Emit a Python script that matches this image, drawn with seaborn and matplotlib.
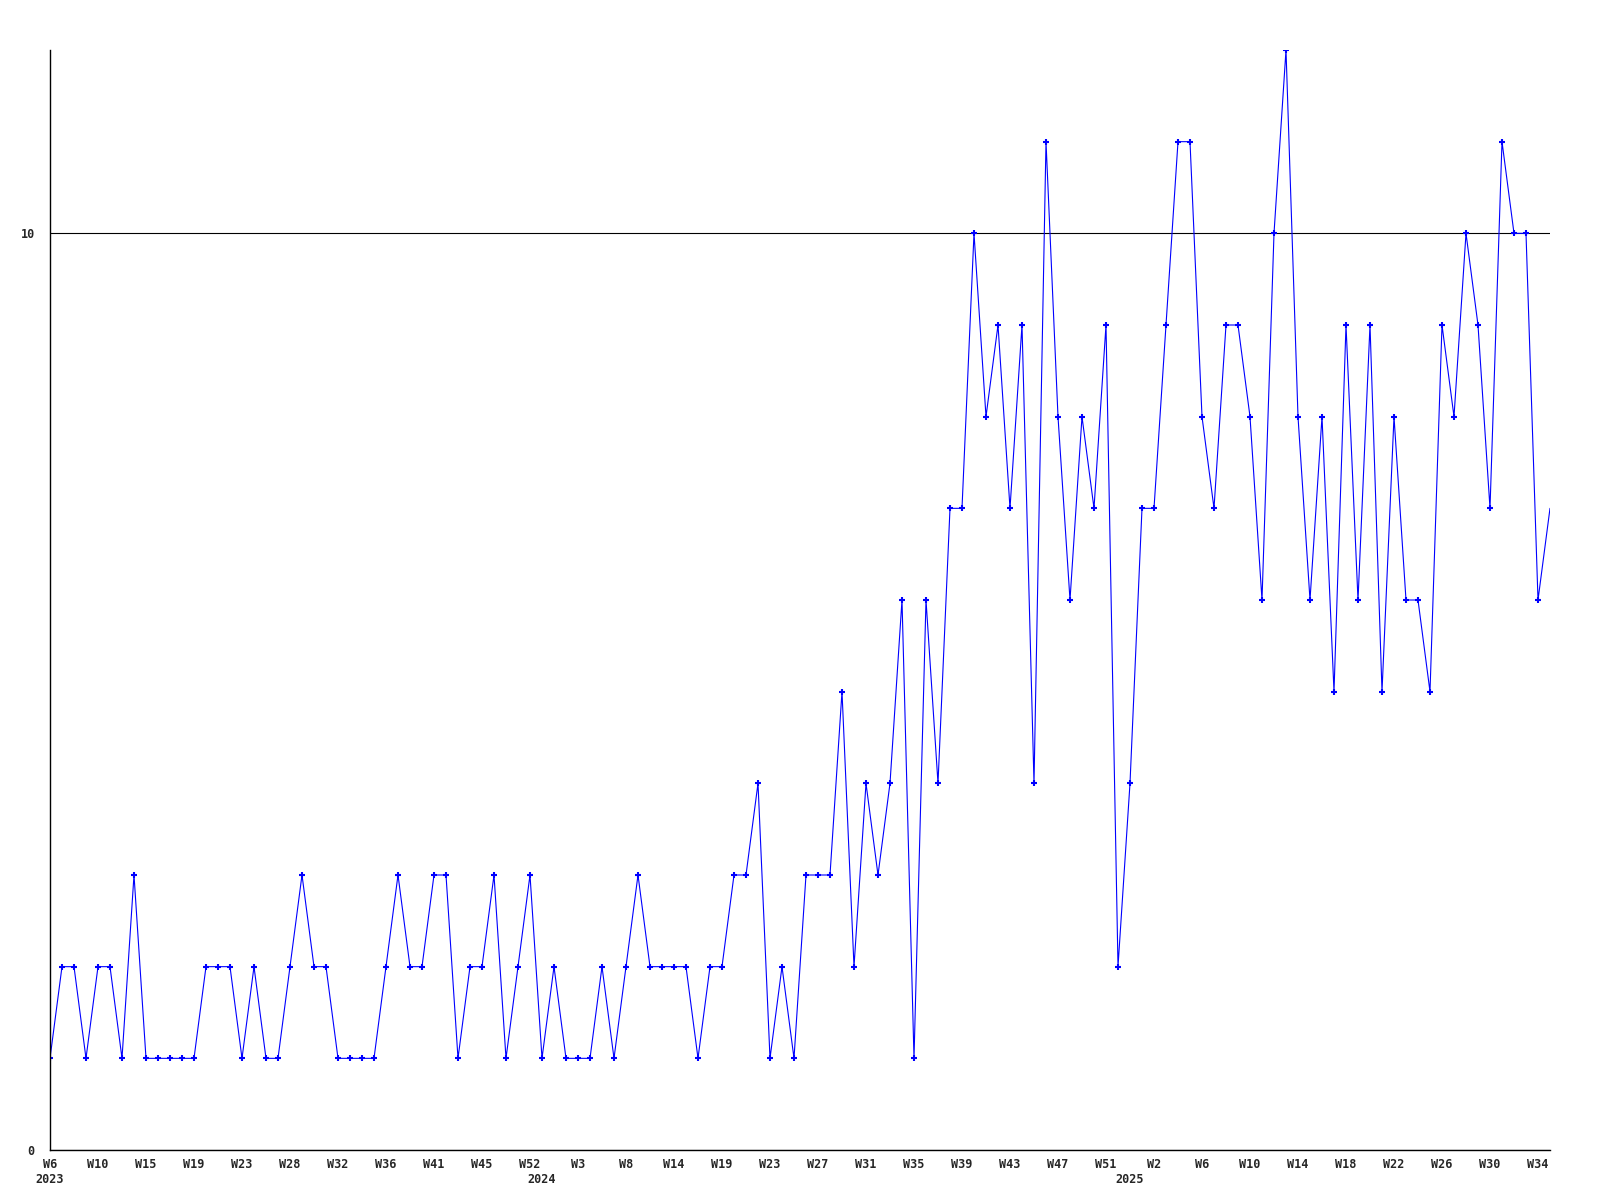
import pandas as pd
import matplotlib
matplotlib.use("Agg")
import matplotlib.pyplot as plt
import seaborn as sns

# weekly counts, W6 2023 .. W35 2025
values = [1, 2, 2, 1, 2, 2, 1, 3, 1, 1, 1, 1, 1, 2, 2, 2, 1, 2, 1, 1, 2,
          3, 2, 2, 1, 1, 1, 1, 2, 3, 2, 2, 3, 3, 1, 2, 2, 3, 1, 2, 3,
          1, 2, 1, 1, 1, 2, 1, 2, 3, 2, 2, 2, 2, 1, 2, 2, 3, 3, 4, 1,
          2, 1, 3, 3, 3, 5, 2, 4, 3, 4, 6, 1, 6, 4, 7, 7, 10, 8, 9, 7,
          9, 4, 11, 8, 6, 8, 7, 9, 2, 4, 7, 7, 9, 11, 11, 8, 7, 9, 9, 8,
          6, 10, 12, 8, 6, 8, 5, 9, 6, 9, 5, 8, 6, 6, 5, 9, 8, 10, 9, 7,
          11, 10, 10, 6, 7]

# labels shown on every 4th point
tick_labels = ["W6", "W10", "W15", "W19", "W23", "W28", "W32", "W36", "W41",
               "W45", "W52", "W3", "W8", "W14", "W19", "W23", "W27", "W31",
               "W35", "W39", "W43", "W47", "W51", "W2", "W6", "W10", "W14",
               "W18", "W22", "W26", "W30", "W34"]
years = ["2023", "2024", "2025"]
year_start = [0, 41, 90]

df = pd.DataFrame({"week": range(len(values)), "count": values})

sns.set_style("white")
plt.rcParams["font.family"] = ["DejaVu Sans Mono"]

fig = plt.figure(figsize=(16, 12), dpi=100)
ax = fig.add_axes([50 / 1600, 50 / 1200, 1500 / 1600, 1100 / 1200])

sns.lineplot(data=df, x="week", y="count", ax=ax, color="#0000ff",
             linewidth=0.8, marker="+", markersize=4,
             markeredgewidth=1.5, markeredgecolor="#0000ff",
             markevery=list(range(len(values) - 1)))

ax.set_xlim(0, len(values) - 1)
ax.set_ylim(0, 12)
ax.set_yticks([0, 10])
ax.set_xticks(range(0, len(values), 4))
ax.set_xticklabels(tick_labels)
ax.set_xlabel("")
ax.set_ylabel("")

ax.grid(axis="y", color="black", linewidth=0.8)
ax.grid(axis="x", visible=False)
ax.set_axisbelow(True)

for side in ["top", "right"]:
    ax.spines[side].set_visible(False)
for side in ["left", "bottom"]:
    ax.spines[side].set_color("black")
    ax.spines[side].set_linewidth(1)

ax.tick_params(axis="x", length=0, pad=6, labelsize=8.5)
ax.tick_params(axis="y", length=0, pad=11, labelsize=8.5)
for lbl in ax.get_xticklabels() + ax.get_yticklabels():
    lbl.set_fontweight("bold")

for yr, pos in zip(years, year_start):
    ax.text(pos, -0.021, yr, transform=ax.get_xaxis_transform(),
            ha="center", va="top", fontsize=8.5, fontweight="bold")

fig.savefig("out.png", dpi=100)
